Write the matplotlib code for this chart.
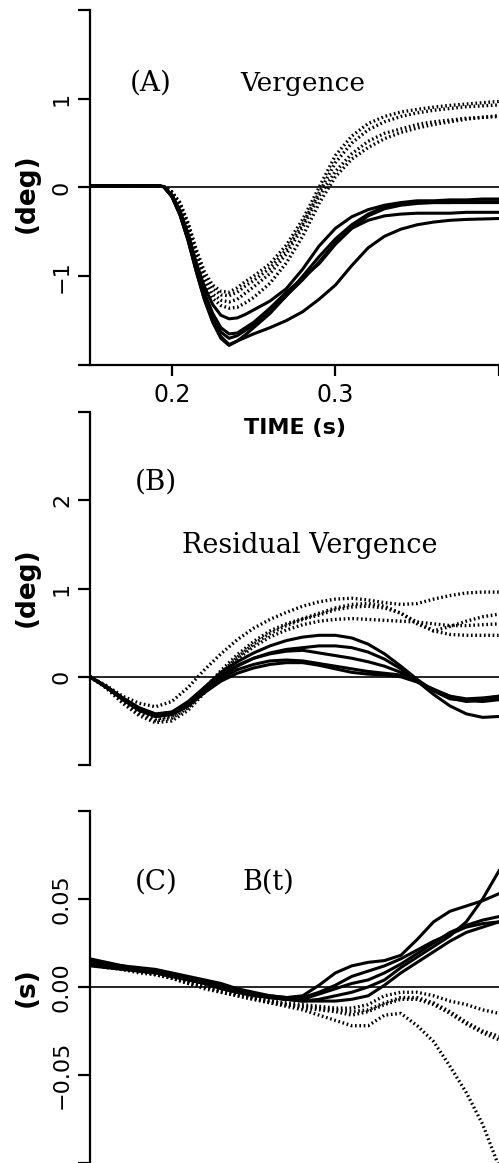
import numpy as np
import matplotlib
matplotlib.use("Agg")
import matplotlib.pyplot as plt

# ---- panel A: vergence (deg) ----
t_a = [0.15, 0.17, 0.19, 0.195, 0.20, 0.205, 0.21, 0.215, 0.22, 0.225, 0.23, 0.235,
       0.24, 0.245, 0.25, 0.26, 0.27, 0.28, 0.29, 0.30, 0.31, 0.32, 0.33, 0.34,
       0.35, 0.36, 0.37, 0.38, 0.39, 0.40]
verg_solid = [
    [0.02, 0.02, 0.02, 0.01, -0.08, -0.26, -0.52, -0.85, -1.12, -1.32, -1.44, -1.48,
     -1.47, -1.43, -1.38, -1.28, -1.14, -0.92, -0.66, -0.46, -0.33, -0.25, -0.20, -0.17,
     -0.15, -0.15, -0.14, -0.14, -0.13, -0.13],
    [0.02, 0.02, 0.02, 0.01, -0.10, -0.31, -0.60, -0.95, -1.27, -1.52, -1.70, -1.78,
     -1.73, -1.66, -1.58, -1.42, -1.22, -1.00, -0.78, -0.58, -0.42, -0.30, -0.22, -0.18,
     -0.17, -0.17, -0.17, -0.17, -0.17, -0.17],
    [0.02, 0.02, 0.02, 0.01, -0.10, -0.30, -0.58, -0.92, -1.22, -1.46, -1.63, -1.70,
     -1.67, -1.61, -1.55, -1.40, -1.22, -1.04, -0.84, -0.62, -0.46, -0.37, -0.32, -0.30,
     -0.29, -0.29, -0.29, -0.28, -0.28, -0.28],
    [0.02, 0.02, 0.02, 0.01, -0.10, -0.29, -0.56, -0.90, -1.19, -1.42, -1.58, -1.65,
     -1.64, -1.58, -1.52, -1.36, -1.18, -1.02, -0.86, -0.64, -0.46, -0.32, -0.24, -0.20,
     -0.18, -0.17, -0.17, -0.16, -0.16, -0.16],
    [0.02, 0.02, 0.02, 0.01, -0.10, -0.31, -0.60, -0.95, -1.26, -1.50, -1.68, -1.77,
     -1.73, -1.69, -1.65, -1.58, -1.50, -1.40, -1.26, -1.10, -0.88, -0.68, -0.55, -0.47,
     -0.42, -0.39, -0.37, -0.36, -0.355, -0.35],
]
verg_dotted = [
    [0.02, 0.02, 0.02, 0.01, -0.05, -0.17, -0.40, -0.70, -0.95, -1.10, -1.17, -1.18,
     -1.13, -1.06, -1.00, -0.86, -0.65, -0.36, 0.00, 0.36, 0.58, 0.72, 0.80, 0.85,
     0.88, 0.905, 0.925, 0.94, 0.955, 0.97],
    [0.02, 0.02, 0.02, 0.01, -0.05, -0.18, -0.42, -0.73, -0.99, -1.14, -1.21, -1.22,
     -1.18, -1.11, -1.05, -0.91, -0.70, -0.41, -0.06, 0.28, 0.50, 0.65, 0.74, 0.80,
     0.84, 0.87, 0.89, 0.91, 0.92, 0.93],
    [0.02, 0.02, 0.02, 0.01, -0.06, -0.19, -0.44, -0.76, -1.03, -1.20, -1.27, -1.29,
     -1.26, -1.19, -1.12, -0.97, -0.75, -0.45, -0.10, 0.18, 0.38, 0.52, 0.61, 0.66,
     0.71, 0.74, 0.76, 0.78, 0.79, 0.80],
    [0.02, 0.02, 0.02, 0.01, -0.06, -0.20, -0.46, -0.79, -1.07, -1.25, -1.33, -1.36,
     -1.35, -1.30, -1.24, -1.08, -0.85, -0.55, -0.18, 0.12, 0.32, 0.45, 0.55, 0.62,
     0.67, 0.71, 0.74, 0.77, 0.79, 0.81],
]

# ---- panel B: residual vergence (deg) ----
t_b = [0.15, 0.16, 0.17, 0.18, 0.19, 0.20, 0.21, 0.22, 0.23, 0.24, 0.25, 0.26, 0.27,
       0.28, 0.29, 0.30, 0.31, 0.32, 0.33, 0.34, 0.35, 0.36, 0.37, 0.38, 0.39, 0.40]
resid_solid = [
    [0, -0.12, -0.25, -0.38, -0.45, -0.42, -0.30, -0.12, 0.05, 0.17, 0.27, 0.35, 0.41,
     0.45, 0.47, 0.47, 0.44, 0.37, 0.26, 0.12, -0.03, -0.16, -0.25, -0.27, -0.25, -0.22],
    [0, -0.12, -0.26, -0.38, -0.45, -0.43, -0.32, -0.15, 0.00, 0.12, 0.21, 0.27, 0.31,
     0.33, 0.35, 0.35, 0.33, 0.28, 0.20, 0.09, -0.05, -0.20, -0.33, -0.42, -0.46, -0.45],
    [0, -0.11, -0.24, -0.36, -0.43, -0.40, -0.28, -0.12, 0.02, 0.13, 0.21, 0.26, 0.29,
     0.30, 0.27, 0.24, 0.21, 0.17, 0.12, 0.05, -0.05, -0.15, -0.22, -0.25, -0.24, -0.22],
    [0, -0.11, -0.24, -0.35, -0.42, -0.40, -0.30, -0.15, -0.02, 0.08, 0.14, 0.18, 0.19,
     0.18, 0.15, 0.12, 0.09, 0.06, 0.04, 0.02, -0.05, -0.15, -0.24, -0.28, -0.26, -0.23],
    [0, -0.12, -0.25, -0.37, -0.44, -0.42, -0.33, -0.18, -0.05, 0.04, 0.10, 0.14, 0.16,
     0.16, 0.13, 0.09, 0.05, 0.03, 0.02, 0.00, -0.06, -0.14, -0.22, -0.27, -0.28, -0.26],
]
resid_dotted = [
    [0, -0.10, -0.22, -0.30, -0.34, -0.28, -0.12, 0.08, 0.26, 0.42, 0.55, 0.65, 0.73,
     0.80, 0.85, 0.88, 0.89, 0.87, 0.84, 0.82, 0.83, 0.88, 0.92, 0.95, 0.96, 0.96],
    [0, -0.12, -0.27, -0.40, -0.48, -0.45, -0.33, -0.13, 0.07, 0.25, 0.40, 0.52, 0.60,
     0.66, 0.72, 0.78, 0.82, 0.83, 0.80, 0.72, 0.60, 0.52, 0.57, 0.63, 0.68, 0.71],
    [0, -0.13, -0.30, -0.44, -0.52, -0.50, -0.38, -0.18, 0.02, 0.20, 0.34, 0.45, 0.53,
     0.59, 0.63, 0.65, 0.66, 0.65, 0.64, 0.63, 0.62, 0.60, 0.58, 0.58, 0.59, 0.60],
    [0, -0.12, -0.28, -0.42, -0.50, -0.47, -0.35, -0.16, 0.04, 0.22, 0.37, 0.49, 0.58,
     0.65, 0.70, 0.76, 0.79, 0.80, 0.78, 0.72, 0.62, 0.52, 0.48, 0.47, 0.47, 0.47],
]

# ---- panel C: B(t) (s) ----
t_c = t_b
bt_solid = [
    [0.016, 0.014, 0.012, 0.011, 0.010, 0.008, 0.006, 0.004, 0.002, -0.001, -0.003, -0.005,
     -0.006, -0.005, 0.001, 0.008, 0.012, 0.014, 0.015, 0.018, 0.027, 0.037, 0.043, 0.046,
     0.049, 0.053],
    [0.015, 0.013, 0.012, 0.010, 0.009, 0.007, 0.005, 0.003, 0.001, -0.002, -0.004, -0.005,
     -0.006, -0.006, -0.003, 0.001, 0.006, 0.009, 0.012, 0.016, 0.021, 0.026, 0.030, 0.034,
     0.036, 0.037],
    [0.014, 0.013, 0.011, 0.010, 0.009, 0.007, 0.005, 0.003, 0.000, -0.002, -0.004, -0.006,
     -0.007, -0.008, -0.007, -0.005, -0.003, 0.000, 0.004, 0.011, 0.017, 0.023, 0.029, 0.037,
     0.050, 0.066],
    [0.013, 0.012, 0.011, 0.009, 0.008, 0.006, 0.004, 0.002, 0.000, -0.003, -0.005, -0.006,
     -0.007, -0.008, -0.008, -0.008, -0.007, -0.005, 0.001, 0.008, 0.014, 0.020, 0.026, 0.031,
     0.034, 0.037],
    [0.012, 0.011, 0.010, 0.009, 0.008, 0.006, 0.004, 0.002, -0.001, -0.003, -0.004, -0.006,
     -0.007, -0.007, -0.004, -0.001, 0.002, 0.004, 0.008, 0.013, 0.019, 0.025, 0.031, 0.035,
     0.038, 0.040],
]
bt_dotted = [
    [0.014, 0.012, 0.010, 0.009, 0.007, 0.005, 0.002, -0.001, -0.003, -0.005, -0.007, -0.009,
     -0.011, -0.013, -0.016, -0.019, -0.022, -0.022, -0.016, -0.015, -0.022, -0.031, -0.045,
     -0.060, -0.078, -0.102],
    [0.014, 0.012, 0.011, 0.009, 0.008, 0.006, 0.003, 0.001, -0.002, -0.004, -0.006, -0.008,
     -0.009, -0.010, -0.011, -0.012, -0.012, -0.010, -0.005, -0.003, -0.003, -0.005, -0.008,
     -0.010, -0.013, -0.015],
    [0.013, 0.012, 0.010, 0.009, 0.007, 0.005, 0.003, 0.000, -0.002, -0.004, -0.006, -0.008,
     -0.010, -0.011, -0.012, -0.013, -0.014, -0.013, -0.009, -0.006, -0.006, -0.009, -0.014,
     -0.020, -0.025, -0.028],
    [0.013, 0.011, 0.010, 0.008, 0.007, 0.005, 0.002, 0.000, -0.003, -0.005, -0.007, -0.009,
     -0.010, -0.012, -0.013, -0.014, -0.016, -0.014, -0.010, -0.007, -0.007, -0.010, -0.015,
     -0.021, -0.026, -0.030],
]

SOLID_LW = 2.2
DOT = dict(color="black", lw=2.4, linestyle=(0, (0.5, 0.8)), dash_capstyle="butt")
SERIF = "DejaVu Serif"

fig = plt.figure(figsize=(4.99, 11.63), dpi=100)
ax_a = fig.add_axes([0.1804, 0.6862, 0.8196, 0.3052])
ax_b = fig.add_axes([0.1804, 0.3422, 0.8196, 0.3035])
ax_c = fig.add_axes([0.1804, 0.0, 0.8196, 0.3027])


def style_axis(ax, ylim, yticks, ylabels, ylabel, label_y):
    ax.patch.set_visible(False)
    ax.set_xlim(0.15, 0.40)
    ax.set_ylim(*ylim)
    ax.axhline(0, color="black", lw=1.2, zorder=1)
    for side in ["top", "right", "bottom"]:
        ax.spines[side].set_visible(False)
    ax.spines["left"].set_linewidth(1.6)
    ax.set_yticks(yticks)
    ax.set_yticklabels(ylabels, rotation=90, va="center", fontsize=16)
    ax.tick_params(axis="y", direction="out", length=9, width=1.6, pad=4)
    ax.set_ylabel(ylabel, fontsize=19, fontweight="bold")
    ax.yaxis.set_label_coords(-0.122, label_y)
    ax.set_xticks([])


# panel A
for ys in verg_dotted:
    ax_a.plot(t_a, ys, **DOT)
for ys in verg_solid:
    ax_a.plot(t_a, ys, color="black", lw=SOLID_LW)
style_axis(ax_a, (-2, 2), [-2, -1, 0, 1, 2], ["", "\u22121", "0", "1", ""], "(deg)", 0.485)
ax_a.spines["bottom"].set_visible(True)
ax_a.spines["bottom"].set_linewidth(1.6)
ax_a.set_xticks([0.2, 0.3, 0.4])
ax_a.set_xticklabels(["0.2", "0.3", ""], fontsize=17)
ax_a.tick_params(axis="x", direction="out", length=8, width=1.6, pad=5)
ax_a.set_xlabel("TIME (s)", fontsize=16, fontweight="bold", labelpad=8)
ax_a.text(0.098, 0.794, "(A)", transform=ax_a.transAxes, fontsize=20,
          family=SERIF, va="center")
ax_a.text(0.367, 0.794, "Vergence", transform=ax_a.transAxes, fontsize=19,
          family=SERIF, va="center")

# panel B
for ys in resid_dotted:
    ax_b.plot(t_b, ys, **DOT)
for ys in resid_solid:
    ax_b.plot(t_b, ys, color="black", lw=SOLID_LW)
style_axis(ax_b, (-1, 3), [-1, 0, 1, 2, 3], ["", "0", "1", "2", ""], "(deg)", 0.504)
ax_b.text(0.110, 0.802, "(B)", transform=ax_b.transAxes, fontsize=20,
          family=SERIF, va="center")
ax_b.text(0.225, 0.623, "Residual Vergence", transform=ax_b.transAxes, fontsize=19.5,
          family=SERIF, va="center")

# panel C
for ys in bt_dotted:
    ax_c.plot(t_c, ys, **DOT)
for ys in bt_solid:
    ax_c.plot(t_c, ys, color="black", lw=SOLID_LW)
style_axis(ax_c, (-0.1, 0.1), [-0.1, -0.05, 0, 0.05, 0.1],
           ["", "\u22120.05", "0.00", "0.05", ""], "(s)", 0.50)
ax_c.text(0.110, 0.798, "(C)", transform=ax_c.transAxes, fontsize=20,
          family=SERIF, va="center")
ax_c.text(0.372, 0.798, "B(t)", transform=ax_c.transAxes, fontsize=19.5,
          family=SERIF, va="center")

fig.savefig("out.png", dpi=100)
